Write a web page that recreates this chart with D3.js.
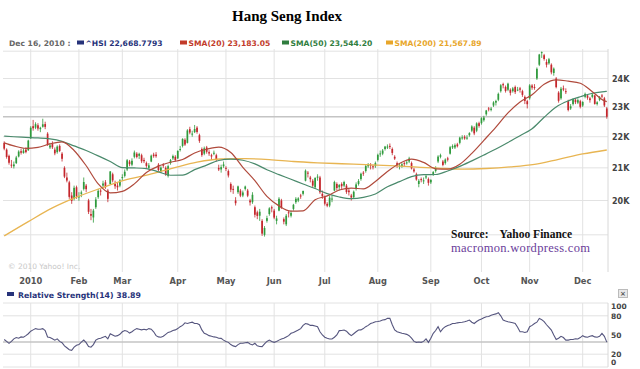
<!DOCTYPE html>
<html><head><meta charset="utf-8">
<script src="https://cdn.jsdelivr.net/npm/d3@7"></script>
<style>body{margin:0;background:#fff;}svg{display:block;}</style>
</head><body>
<svg id="c" width="640" height="369"></svg>
<script>
// ---------- data ----------
const monthLabels = ["2010","Feb","Mar","Apr","May","Jun","Jul","Aug","Sep","Oct","Nov","Dec"];
const monthStartDay = [11,31,49,72,92,112,133,155,177,198,218,240];
const priceTickValues = [20000,21000,22000,23000,24000];
const priceTickLabels = ["20K","21K","22K","23K","24K"];
const priceGridValues = [19000,20000,21000,22000,23000,24000,25000];
const rsiTickValues = [0,20,50,80,100];
const rsiGridValues = [20,80];
const lastClose = 22668.7793;
const lastRsi = 38.89;
const legendItems = [
  {label:"^HSI 22,668.7793", color:"#27337a"},
  {label:"SMA(20) 23,183.05", color:"#c23b2a"},
  {label:"SMA(50) 23,544.20", color:"#2f7d3e"},
  {label:"SMA(200) 21,567.89", color:"#e8a62a"}
];

const open = [
21800,21580,21380,21100,21050,21150,21360,21530,21470,21580,21560,
21950,22350,22300,22380,22250,22330,22420,22100,21650,21760,21580,21500,21700,21450,21000,20700,20550,20150,20050,20400,
20100,20200,20350,20450,20000,19600,19500,19800,20100,20300,20450,20550,20300,20500,20800,20500,20450,20450,
20700,20750,20950,21200,21100,21350,21450,21380,21400,21250,21150,21000,21200,21420,21420,21100,20900,21100,21000,20750,21150,21300,21350,
21300,21600,21700,21900,21800,22250,22100,22150,22300,22050,21600,21450,21650,21500,21400,21450,21400,21000,20950,21050,
21000,20900,20500,20350,20000,20250,20300,20150,20350,20300,20000,19950,19800,19650,19550,19400,19000,19400,19600,19800,
19700,19400,19700,20000,19450,19300,19650,19550,19750,19950,20000,20150,20200,20600,20850,20700,20600,20400,20700,20700,20200,
20100,19900,19850,20050,20300,20500,20400,20500,20450,20450,20300,20150,20100,20350,20500,20650,20850,20900,21050,21100,21050,21050,
21250,21450,21450,21600,21650,21700,21600,21350,21150,21050,21050,21150,21150,21200,21150,20950,20800,20500,20650,20600,20700,20650,
20550,20800,20900,21200,21350,21200,21150,21300,21450,21650,21650,21750,21800,21950,22000,21950,22050,22200,22300,22200,22450,
22450,22550,22750,22950,22900,23050,23150,23250,23550,23800,23700,23600,23600,23550,23700,23600,23650,23550,23350,23200,
23300,23750,23700,24000,24500,24950,24850,24600,24550,24500,24200,24000,23500,23300,23650,23550,23200,22950,23100,23250,23150,23200,
23050,23350,23400,23300,23350,23400,23100,23250,23400,23300,22950];
const high = [
21850,21620,21420,21250,21200,21380,21560,21600,21620,21650,21900,
22350,22560,22480,22450,22330,22600,22500,22150,21800,21850,21650,21720,21750,21500,21050,20850,20600,20250,20450,20450,
20250,20300,20700,20500,20050,19750,19750,20100,20350,20350,20600,20620,20350,20900,20850,20600,20550,20650,
20800,20950,21280,21250,21300,21550,21500,21480,21450,21320,21200,21150,21420,21480,21500,21150,21050,21150,21050,21100,21280,21420,21400,
21560,21700,21950,21950,22250,22330,22200,22390,22350,22100,21650,21680,21700,21560,21450,21550,21450,21100,21100,21200,
21050,20950,20550,20450,20100,20450,20350,20300,20450,20350,20050,20250,19850,19700,19750,19450,19250,19550,19800,19850,
19750,19550,20100,20050,19500,19600,19700,19700,19900,20100,20100,20200,20300,20950,20900,20750,20650,20700,20800,20750,20300,
20150,19950,20150,20150,20600,20550,20500,20550,20600,20500,20350,20200,20300,20550,20650,20850,20900,21100,21150,21150,21100,21200,
21450,21550,21600,21700,21750,21780,21650,21400,21200,21150,21150,21200,21250,21350,21200,21000,20850,20650,20700,20700,20800,20700,
20650,20900,21050,21400,21450,21250,21300,21350,21700,21750,21780,21800,22000,22050,22050,22050,22150,22380,22350,22480,22500,
22650,22700,22900,23000,23000,23200,23250,23500,23800,23850,23750,23850,23650,23700,23750,23700,23700,23600,23400,23250,
23800,23800,23800,24400,24900,24990,24900,24700,24750,24550,24400,24050,23550,23700,23750,23650,23250,23100,23300,23300,23300,23250,
23200,23500,23450,23350,23480,23420,23200,23380,23450,23350,23000];
const low = [
21560,21290,21100,21000,20980,21120,21330,21420,21450,21460,21540,
21930,22200,22250,22200,22150,22300,22250,21700,21600,21600,21400,21450,21500,21200,20680,20550,20050,19900,20000,20050,
19990,20100,20300,20250,19600,19420,19350,19750,20050,20150,20400,20350,19950,20480,20550,20350,20300,20400,
20600,20700,20900,21050,21050,21300,21300,21280,21150,21150,21000,20950,21180,21320,21320,20900,20850,21000,20750,20700,21100,21250,21200,
21280,21520,21650,21700,21780,22080,22000,22120,22100,21800,21350,21400,21450,21380,21250,21400,21200,20900,20850,21000,
20900,20700,20250,20200,19850,20200,20100,20100,20300,20100,19850,19900,19500,19450,19400,18970,18950,19350,19550,19650,
19450,19300,19680,19750,19300,19250,19500,19500,19700,19900,19950,20050,20150,20580,20700,20550,20400,20350,20600,20200,20050,
19850,19800,19800,19950,20280,20300,20300,20350,20400,20200,20150,20000,20050,20300,20450,20600,20750,20850,21000,20950,20950,21000,
21200,21350,21400,21550,21600,21600,21400,21250,21000,20950,21000,21050,21100,21150,20950,20850,20600,20400,20550,20500,20650,20450,
20500,20750,20850,21150,21300,21050,21100,21200,21420,21600,21600,21650,21750,21900,21900,21900,22000,22150,22050,22150,22300,
22400,22500,22700,22850,22850,23000,23050,23200,23500,23650,23500,23550,23400,23500,23450,23550,23500,23350,23100,22950,
23250,23600,23600,23950,24450,24750,24650,24400,24500,24150,24100,23650,23150,23250,23550,23450,22850,22900,23050,23100,23100,22950,
23000,23300,23250,23150,23300,23080,23050,23200,23300,23000,22600];
const close = [
21611,21346,21161,21078,21107,21328,21517,21480,21550,21500,21873,
22298,22279,22417,22270,22297,22412,22327,21749,21716,21655,21460,21678,21538,21286,20726,20605,20109,19990,20384,20122,
20121,20244,20560,20341,19665,19550,19700,20030,20290,20267,20515,20400,20050,20887,20611,20431,20399,20608,
20713,20878,21240,21116,21224,21488,21345,21444,21208,21209,21062,21079,21387,21371,21370,20933,21009,21076,20800,21053,21245,21374,21239,
21537,21600,21928,21744,22208,22138,22103,22256,22157,21865,21404,21623,21510,21455,21360,21480,21262,20950,21022,21108,
20985,20763,20327,20340,19920,20426,20146,20242,20422,20145,19944,20172,19578,19545,19667,19034,19196,19480,19766,19765,
19496,19472,20052,19780,19378,19550,19632,19632,19872,20051,20063,20138,20286,20912,20819,20645,20450,20690,20726,20248,20129,
19905,19845,20084,20058,20560,20378,20467,20431,20560,20255,20250,20090,20264,20487,20589,20815,20839,21058,21091,21094,21029,21150,
21412,21458,21551,21678,21680,21679,21474,21293,21070,21071,21112,21136,21173,21296,20983,20889,20637,20597,20621,20612,20737,20536,
20623,20868,21000,21356,21401,21091,21262,21259,21658,21696,21725,21691,21971,21978,21943,21972,22119,22340,22110,22442,22358,
22618,22640,22880,22917,22944,23157,23207,23455,23758,23757,23558,23816,23492,23649,23517,23605,23602,23420,23210,23096,
23753,23675,23693,24350,24876,24965,24710,24500,24700,24222,24356,23693,23214,23637,23605,23524,22897,23023,23273,23165,23237,23007,
23172,23453,23318,23237,23429,23106,23161,23338,23360,23052,22669];

const smaDays = [0,4,9,14,19,24,29,34,39,44,49,54,59,64,69,74,79,84,89,94,99,104,109,114,119,124,129,134,139,144,149,154,159,164,169,174,179,184,189,194,199,204,209,214,219,224,229,234,239,244,249,250];
const sma20 = [21800,21700,21620,21650,21766,21832,21553,21066,20503,20228,20275,20503,20855,21056,21177,21263,21473,21593,21660,21486,21017,20602,20123,19840,19685,19693,20022,20138,20316,20375,20349,20577,20889,21139,21274,21171,20970,20959,21112,21461,21882,22318,22798,23174,23423,23798,23954,23905,23832,23533,23210,23183];
const sma50 = [22020,22000,21980,21960,21930,21850,21700,21550,21380,21200,21005,20998,20976,20876,20769,20771,20943,21087,21232,21274,21240,21126,20940,20788,20644,20498,20360,20205,20106,20054,20092,20195,20413,20573,20728,20787,20792,20902,21046,21221,21405,21598,21810,22035,22264,22649,23003,23213,23353,23478,23535,23544];
const sma200Days = [0,10,20,30,40,50,60,70,80,90,100,110,120,130,140,150,160,170,180,190,200,210,220,230,240,250];
const sma200 = [18970,19380,19780,20100,20370,20620,20790,20990,21180,21280,21290,21260,21200,21160,21130,21100,21070,21030,20990,20960,20980,21030,21110,21270,21440,21568];

const rsi = [
43,40,37,40,44,46,45,47,46.5,49,52,
56,58,60,59,59,60,57,47,46,44,
42,44,40,38,33,30,27,26,31,34,
35,39,42,38,32,31,35,42,44,45,
46.5,48,44,52,50,48,49,51,55,57,
56,53,55,58,60,59,58,59,58,60,
59,55,49,47,46.5,48,51,54,55,57,
58,60,63,65,69,68,69,70,68,68,
66,58,52.6,51,49,48,47,46.5,45,44.8,
42,40,38.5,35,33,31.8,35,37,37,38,
38.5,36,34.4,37,33,32,31.8,36,40,42,
40,38.5,40,42,43.8,45,47,49,52.6,54,
56,57.8,60,65,68,67,65,65,64,63,
55,50,46.5,45,43.8,43.8,46.5,50,56.8,57,
57.8,56,52,49,52,55,57.8,58,60,63,
65,68,69,70.8,71,72,73.4,74,76,76,
66,58,55,54,52.6,52,51,49,45,40,
38.5,39,38.5,40,43.8,38.5,45,52.6,57,63,
55,60,63,65,66,68,68,69,69.5,70,
70.8,72,73.4,70,68,71,73.4,75,77,78.6,
79,81,82,83,84.9,80,73.4,72,70.8,70,
69,68,62,55,55,54,55,63,65,68,
70,76,74,70.8,66,62,57.8,50,43,45,
48,46,42,42,43,43,44,43.8,46,49,
47,46.5,48,49,47,46.5,48,52.6,48,38.89];

// ---------- layout ----------
const L = 3, R = 608;
const plotTop = 49, plotBot = 272;
const rsiTop = 303, rsiBot = 367;
const svg = d3.select("#c");
const n = close.length;

const x = d3.scaleLinear().domain([-0.5, n - 0.5]).range([L, R]);
const y = d3.scaleLog().domain([18000, 25000]).range([271, 51.2]);
const yr = d3.scaleLinear().domain([0, 100]).range([rsiBot, rsiTop]);

const font = "'DejaVu Sans', Verdana, sans-serif";
const serif = "'Liberation Serif','Times New Roman',serif";
const gridCol = "#e2e2e2";

// title
svg.append("text").attr("x", 287).attr("y", 21).attr("text-anchor", "middle")
  .attr("font-family", serif).attr("font-weight", "bold")
  .attr("font-size", 15).attr("fill", "#000").text("Hang Seng Index");

// legend
const leg = svg.append("g").attr("font-family", font).attr("font-size", 7.6).attr("font-weight", "bold");
leg.append("text").attr("x", 9).attr("y", 46).attr("fill", "#666").text("Dec 16, 2010 :");
const legX = [77, 180, 282, 386];
legendItems.forEach((d, k) => {
  leg.append("rect").attr("x", legX[k]).attr("y", 40.5).attr("width", 7).attr("height", 4).attr("fill", d.color);
  leg.append("text").attr("x", legX[k] + 8.5).attr("y", 46).attr("fill", d.color).text(d.label);
});

// main grid
const g = svg.append("g");
g.selectAll(".hg").data(priceGridValues).join("line")
  .attr("x1", L).attr("x2", R).attr("y1", d => y(d)).attr("y2", d => y(d))
  .attr("stroke", gridCol).attr("stroke-width", 1);
g.selectAll(".vg").data(monthStartDay).join("line")
  .attr("x1", d => x(d)).attr("x2", d => x(d)).attr("y1", plotTop).attr("y2", plotBot)
  .attr("stroke", gridCol).attr("stroke-width", 1);
g.append("line").attr("x1", R).attr("x2", R).attr("y1", plotTop).attr("y2", plotBot).attr("stroke", "#d8d8d8");
g.append("line").attr("x1", L).attr("x2", R).attr("y1", y(lastClose)).attr("y2", y(lastClose))
  .attr("stroke", "#c4c4c4").attr("stroke-width", 1.5);

// copyright
svg.append("text").attr("x", 8).attr("y", 269).attr("font-family", font).attr("font-size", 7.5)
  .attr("fill", "#c8c8c8").text("\u00A9 2010 Yahoo! Inc.");

// price axis labels
svg.selectAll(".pl").data(priceTickValues).join("text")
  .attr("x", 612).attr("y", d => y(d) + 3).attr("font-family", font).attr("font-size", 8)
  .attr("font-weight", "bold").attr("fill", "#444").text((d, k) => priceTickLabels[k]);

// month labels
svg.selectAll(".ml").data(monthStartDay).join("text")
  .attr("x", d => x(d)).attr("y", 284).attr("text-anchor", "middle").attr("font-family", font)
  .attr("font-size", 8.3).attr("font-weight", "bold").attr("fill", "#555").text((d, k) => monthLabels[k]);

// clip
svg.append("clipPath").attr("id", "pc").append("rect").attr("x", L).attr("y", plotTop).attr("width", R - L).attr("height", plotBot - plotTop);
const pg = svg.append("g").attr("clip-path", "url(#pc)");

// candles
const bw = 1.7;
const up = "#2f9a3c", dn = "#c4262c";
const cd = d3.range(n).map(i => ({i, o: open[i], h: high[i], l: low[i], c: close[i]}));
pg.selectAll(".wk").data(cd).join("line")
  .attr("x1", d => x(d.i)).attr("x2", d => x(d.i)).attr("y1", d => y(d.h)).attr("y2", d => y(d.l))
  .attr("stroke", d => d.c >= d.o ? up : dn).attr("stroke-width", 0.8);
pg.selectAll(".bd").data(cd).join("rect")
  .attr("x", d => x(d.i) - bw / 2).attr("width", bw)
  .attr("y", d => y(Math.max(d.o, d.c)))
  .attr("height", d => Math.max(1, y(Math.min(d.o, d.c)) - y(Math.max(d.o, d.c))))
  .attr("fill", d => d.c >= d.o ? up : dn);

// moving averages
const line = d3.line().x(d => x(d[0])).y(d => y(d[1])).curve(d3.curveMonotoneX);
pg.append("path").attr("d", line(sma200Days.map((d, k) => [d, sma200[k]])))
  .attr("fill", "none").attr("stroke", "#e8b552").attr("stroke-width", 1.3);
pg.append("path").attr("d", line(smaDays.map((d, k) => [d, sma50[k]])))
  .attr("fill", "none").attr("stroke", "#4a8a6c").attr("stroke-width", 1.2);
pg.append("path").attr("d", line(smaDays.map((d, k) => [d, sma20[k]])))
  .attr("fill", "none").attr("stroke", "#b04a3c").attr("stroke-width", 1.2);

// source text
svg.append("text").attr("x", 451).attr("y", 238).attr("font-family", serif)
  .attr("font-weight", "bold").attr("font-size", 11.5).attr("fill", "#111")
  .attr("xml:space", "preserve").text("Source:    Yahoo Finance");
svg.append("text").attr("x", 451).attr("y", 252).attr("font-family", serif)
  .attr("font-size", 12.5).attr("fill", "#6a3d9a").attr("letter-spacing", 0.3).text("macromon.wordpress.com");

// RSI panel
svg.append("rect").attr("x", 7).attr("y", 292).attr("width", 7).attr("height", 4).attr("fill", "#27337a");
svg.append("text").attr("x", 18).attr("y", 297.5).attr("font-family", font).attr("font-size", 7.8)
  .attr("font-weight", "bold").attr("fill", "#27337a").text("Relative Strength(14) " + lastRsi.toFixed(2));
// close box
svg.append("rect").attr("x", 618.5).attr("y", 289.5).attr("width", 9).attr("height", 8).attr("fill", "#e8e8e8").attr("stroke", "#bbb");
svg.append("text").attr("x", 623).attr("y", 296).attr("text-anchor", "middle").attr("font-family", font)
  .attr("font-size", 7).attr("font-weight", "bold").attr("fill", "#555").text("\u00D7");

const rg = svg.append("g");
rg.selectAll(".rh").data([100, ...rsiGridValues, 0]).join("line")
  .attr("x1", L).attr("x2", R).attr("y1", d => yr(d)).attr("y2", d => yr(d)).attr("stroke", gridCol);
rg.selectAll(".rv").data(monthStartDay).join("line")
  .attr("x1", d => x(d)).attr("x2", d => x(d)).attr("y1", rsiTop).attr("y2", rsiBot).attr("stroke", gridCol);
rg.append("line").attr("x1", R).attr("x2", R).attr("y1", rsiTop).attr("y2", rsiBot).attr("stroke", "#d8d8d8");
rg.append("line").attr("x1", L).attr("x2", R).attr("y1", yr(lastRsi)).attr("y2", yr(lastRsi))
  .attr("stroke", "#c4c4c4").attr("stroke-width", 1.5);
rg.append("path").attr("d", d3.line().x((d, i) => x(i)).y(d => yr(d))(rsi))
  .attr("fill", "none").attr("stroke", "#55557e").attr("stroke-width", 1.1);
svg.selectAll(".rl").data(rsiTickValues).join("text")
  .attr("x", 611).attr("y", d => yr(d) + (d === 100 ? 6 : d === 80 ? 3.5 : d === 0 ? -2 : 3)).attr("font-family", font)
  .attr("font-size", 7.5).attr("font-weight", "bold").attr("fill", "#444").text(d => d);
</script>
</body></html>
